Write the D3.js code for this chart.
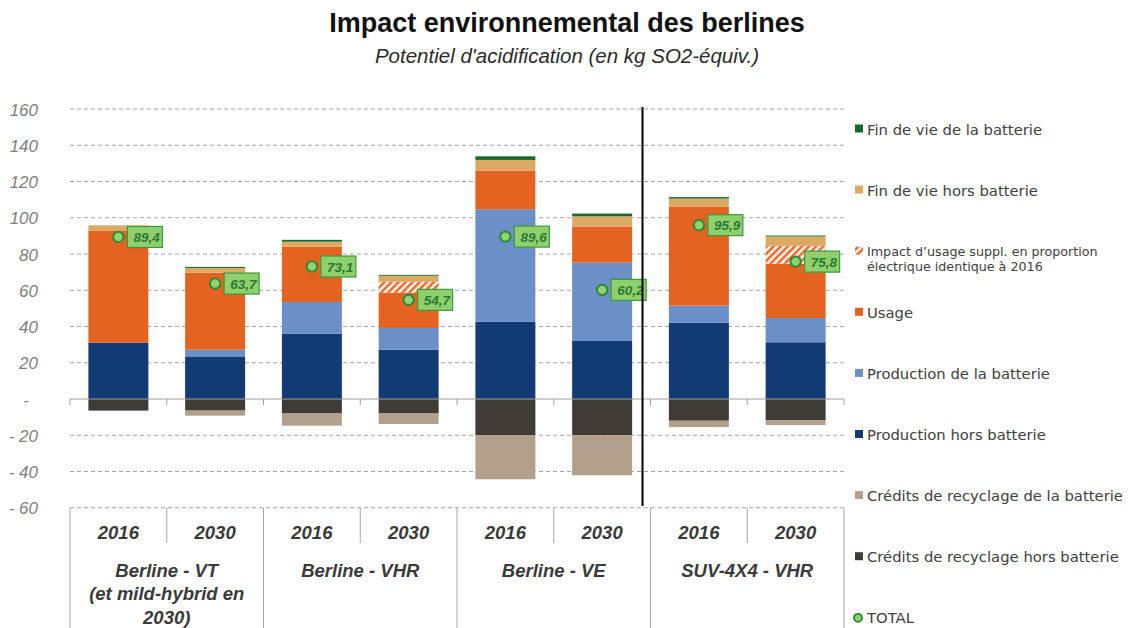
<!DOCTYPE html>
<html>
<head>
<meta charset="utf-8">
<script src="https://cdn.jsdelivr.net/npm/d3@7"></script>
<style>
  html, body { margin: 0; padding: 0; background: #fff; }
  svg { display: block; }
</style>
</head>
<body>
<svg id="chart" width="1133" height="628"></svg>
<script>
// ---------- DATA ----------
const years = ["2016", "2030", "2016", "2030", "2016", "2030", "2016", "2030"];
const groups = [
  ["Berline - VT", "(et mild-hybrid en", "2030)"],
  ["Berline - VHR"],
  ["Berline - VE"],
  ["SUV-4X4 - VHR"]
];
const prodHors    = [31, 23.5, 36, 27.2, 42.7, 32, 42, 31.3];
const prodBatt    = [0, 3.7, 17.5, 12, 62, 43.2, 9.5, 13.4];
const usage       = [62, 42.5, 30.6, 19.5, 21.3, 20, 54.5, 30];
const usageSuppl  = [0, 0, 0, 6, 0, 0, 0, 9.8];
const finVieHors  = [2.8, 2.6, 2.7, 3.3, 5.9, 5.6, 4.6, 5.2];
const finVieBatt  = [0, 0.6, 1.0, 0.5, 2.0, 1.5, 0.8, 0.5];
const creditsHors = [-6.4, -6.4, -8, -8, -19.9, -20, -12, -11.8];
const creditsBatt = [0, -2.8, -6.7, -5.8, -24.4, -22.1, -3.5, -2.6];
const total       = [89.4, 63.7, 73.1, 54.7, 89.6, 60.2, 95.9, 75.8];
const totalLabels = ["89,4", "63,7", "73,1", "54,7", "89,6", "60,2", "95,9", "75,8"];
const yTicks = [-60, -40, -20, 0, 20, 40, 60, 80, 100, 120, 140, 160];

const seriesKeys = ["prodHors", "prodBatt", "usage", "usageSuppl", "finVieHors", "finVieBatt", "creditsHors", "creditsBatt"];
const seriesArrays = { prodHors, prodBatt, usage, usageSuppl, finVieHors, finVieBatt, creditsHors, creditsBatt };
const colors = {
  finVieBatt: "#17692d",
  finVieHors: "#dba962",
  usageSuppl: "url(#hatch)",
  usage: "#e46321",
  prodBatt: "#6b8fc7",
  prodHors: "#123a75",
  creditsBatt: "#b3a08c",
  creditsHors: "#403b35"
};
const legendItems = [
  { key: "finVieBatt", label: ["Fin de vie de la batterie"] },
  { key: "finVieHors", label: ["Fin de vie hors batterie"] },
  { key: "usageSuppl", label: ["Impact d\u2019usage suppl. en proportion", "électrique identique à 2016"] },
  { key: "usage", label: ["Usage"] },
  { key: "prodBatt", label: ["Production de la batterie"] },
  { key: "prodHors", label: ["Production hors batterie"] },
  { key: "creditsBatt", label: ["Crédits de recyclage de la batterie"] },
  { key: "creditsHors", label: ["Crédits de recyclage hors batterie"] },
  { key: "total", label: ["TOTAL"] }
];

(function draw() {
const svg = d3.select("#chart");
const pLeft = 70, pRight = 844, pTop = 109, pBottom = 507.75;
const FONT = "'Liberation Sans', Arial, sans-serif";

const idx = d3.range(years.length);
const x = d3.scaleBand().domain(idx).range([pLeft, pRight]).paddingInner(0.38).paddingOuter(0.19);
const step = x.step();
const y = d3.scaleLinear().domain([-60, 160]).range([pBottom, pTop]);

// hatch pattern
const defs = svg.append("defs");
const pat = defs.append("pattern").attr("id", "hatch").attr("patternUnits", "userSpaceOnUse")
  .attr("width", 5).attr("height", 5).attr("patternTransform", "rotate(45)");
pat.append("rect").attr("width", 5).attr("height", 5).attr("fill", "#fff");
pat.append("rect").attr("width", 2.6).attr("height", 5).attr("fill", "#ee6a2a");

// title
svg.append("text").attr("x", 567).attr("y", 32).attr("text-anchor", "middle")
  .attr("font-family", FONT).attr("font-weight", "bold").attr("font-size", 27).attr("fill", "#111")
  .text("Impact environnemental des berlines");
svg.append("text").attr("x", 567).attr("y", 63).attr("text-anchor", "middle")
  .attr("font-family", FONT).attr("font-style", "italic").attr("font-size", 20.5).attr("fill", "#2b2b2b")
  .text("Potentiel d'acidification (en kg SO2-équiv.)");

// gridlines
svg.append("g").selectAll("line").data(yTicks.filter(d => d !== 0)).join("line")
  .attr("x1", pLeft).attr("x2", pRight)
  .attr("y1", d => y(d)).attr("y2", d => y(d))
  .attr("stroke", "#a6a6a6").attr("stroke-width", 1).attr("stroke-dasharray", "4,3");

// y labels
const yAxis = d3.axisLeft(y).tickValues(yTicks).tickSize(0)
  .tickFormat(d => d > 0 ? String(d) : d < 0 ? "- " + Math.abs(d) : "-");
const gy = svg.append("g").call(yAxis);
gy.select(".domain").remove();
gy.selectAll("text")
  .attr("font-family", FONT).attr("font-style", "italic").attr("font-size", 17).attr("fill", "#808080")
  .attr("dy", "0.36em")
  .attr("x", d => d === 0 ? 26 : 38)
  .attr("text-anchor", d => d === 0 ? "middle" : "end");

// stacked bars
const rows = idx.map(i => {
  const r = { i };
  seriesKeys.forEach(k => r[k] = seriesArrays[k][i]);
  return r;
});
const stacked = d3.stack().keys(seriesKeys).offset(d3.stackOffsetDiverging)(rows);
const gBars = svg.append("g");
stacked.forEach(s => {
  gBars.append("g").attr("fill", colors[s.key])
    .selectAll("rect").data(s.filter(d => d[1] !== d[0])).join("rect")
    .attr("x", d => x(d.data.i))
    .attr("width", x.bandwidth())
    .attr("y", d => y(Math.max(d[0], d[1])))
    .attr("height", d => Math.abs(y(d[0]) - y(d[1])));
});

// zero axis line and ticks
svg.append("line").attr("x1", pLeft).attr("x2", pRight).attr("y1", y(0)).attr("y2", y(0))
  .attr("stroke", "#a0a0a0").attr("stroke-width", 1.2);
const bounds = d3.range(years.length + 1).map(k => pLeft + k * step);
svg.append("g").selectAll("line").data(bounds).join("line")
  .attr("x1", d => d).attr("x2", d => d).attr("y1", y(0)).attr("y2", y(0) + 6)
  .attr("stroke", "#a0a0a0").attr("stroke-width", 1);

// category table below the plot
svg.append("g").selectAll("line").data(bounds).join("line")
  .attr("x1", d => d).attr("x2", d => d)
  .attr("y1", pBottom).attr("y2", (d, k) => k % 2 === 0 ? 628 : 543)
  .attr("stroke", "#a6a6a6").attr("stroke-width", 1);
svg.append("g").selectAll("text").data(years).join("text")
  .attr("x", (d, i) => x(i) + x.bandwidth() / 2).attr("y", 538.5)
  .attr("text-anchor", "middle").attr("font-family", FONT).attr("font-weight", "bold")
  .attr("font-style", "italic").attr("font-size", 18.5).attr("fill", "#3a3a3a")
  .text(d => d);
groups.forEach((lines, gi) => {
  const cx = pLeft + (gi * 2 + 1) * step;
  lines.forEach((t, li) => {
    svg.append("text").attr("x", cx).attr("y", 576.5 + li * 23.5)
      .attr("text-anchor", "middle").attr("font-family", FONT).attr("font-weight", "bold")
      .attr("font-style", "italic").attr("font-size", 18.5).attr("fill", "#3a3a3a").text(t);
  });
});

// total markers and labels
const gTot = svg.append("g");
idx.forEach(i => {
  const cx = x(i) + x.bandwidth() / 2, cy = y(total[i]);
  gTot.append("rect").attr("x", cx + 9).attr("y", cy - 10.5).attr("width", 35).attr("height", 21)
    .attr("fill", "#8fcf6c").attr("stroke", "#3b9a3f").attr("stroke-width", 1.2);
  gTot.append("text").attr("x", cx + 41.5).attr("y", cy + 5).attr("text-anchor", "end")
    .attr("font-family", FONT).attr("font-weight", "bold").attr("font-style", "italic")
    .attr("font-size", 13.5).attr("fill", "#2a7a35").text(totalLabels[i]);
  gTot.append("circle").attr("cx", cx).attr("cy", cy).attr("r", 5.2)
    .attr("fill", "#8fd26f").attr("stroke", "#2b8a34").attr("stroke-width", 2);
});

// vertical separator
const sepX = pLeft + 6 * step - 8;
svg.append("line").attr("x1", sepX).attr("x2", sepX).attr("y1", 107).attr("y2", 506)
  .attr("stroke", "#000").attr("stroke-width", 2);

// legend
const LFONT = "'DejaVu Sans', sans-serif";
const gLeg = svg.append("g");
legendItems.forEach((it, k) => {
  const cy = 129 + k * 61.1;
  if (it.key === "total") {
    gLeg.append("circle").attr("cx", 858).attr("cy", cy).attr("r", 4)
      .attr("fill", "#8fd26f").attr("stroke", "#2b8a34").attr("stroke-width", 1.8);
  } else {
    gLeg.append("rect").attr("x", 855).attr("y", cy - 4.5).attr("width", 8).attr("height", 8)
      .attr("fill", colors[it.key]);
  }
  const small = it.label.length > 1;
  it.label.forEach((t, li) => {
    gLeg.append("text").attr("x", 867).attr("y", cy + (small ? 4.5 : 5.5) + li * 15.5)
      .attr("font-family", LFONT).attr("font-size", small ? 12.7 : 14.8).attr("fill", "#404040")
      .text(t);
  });
});
})();
</script>
</body>
</html>
